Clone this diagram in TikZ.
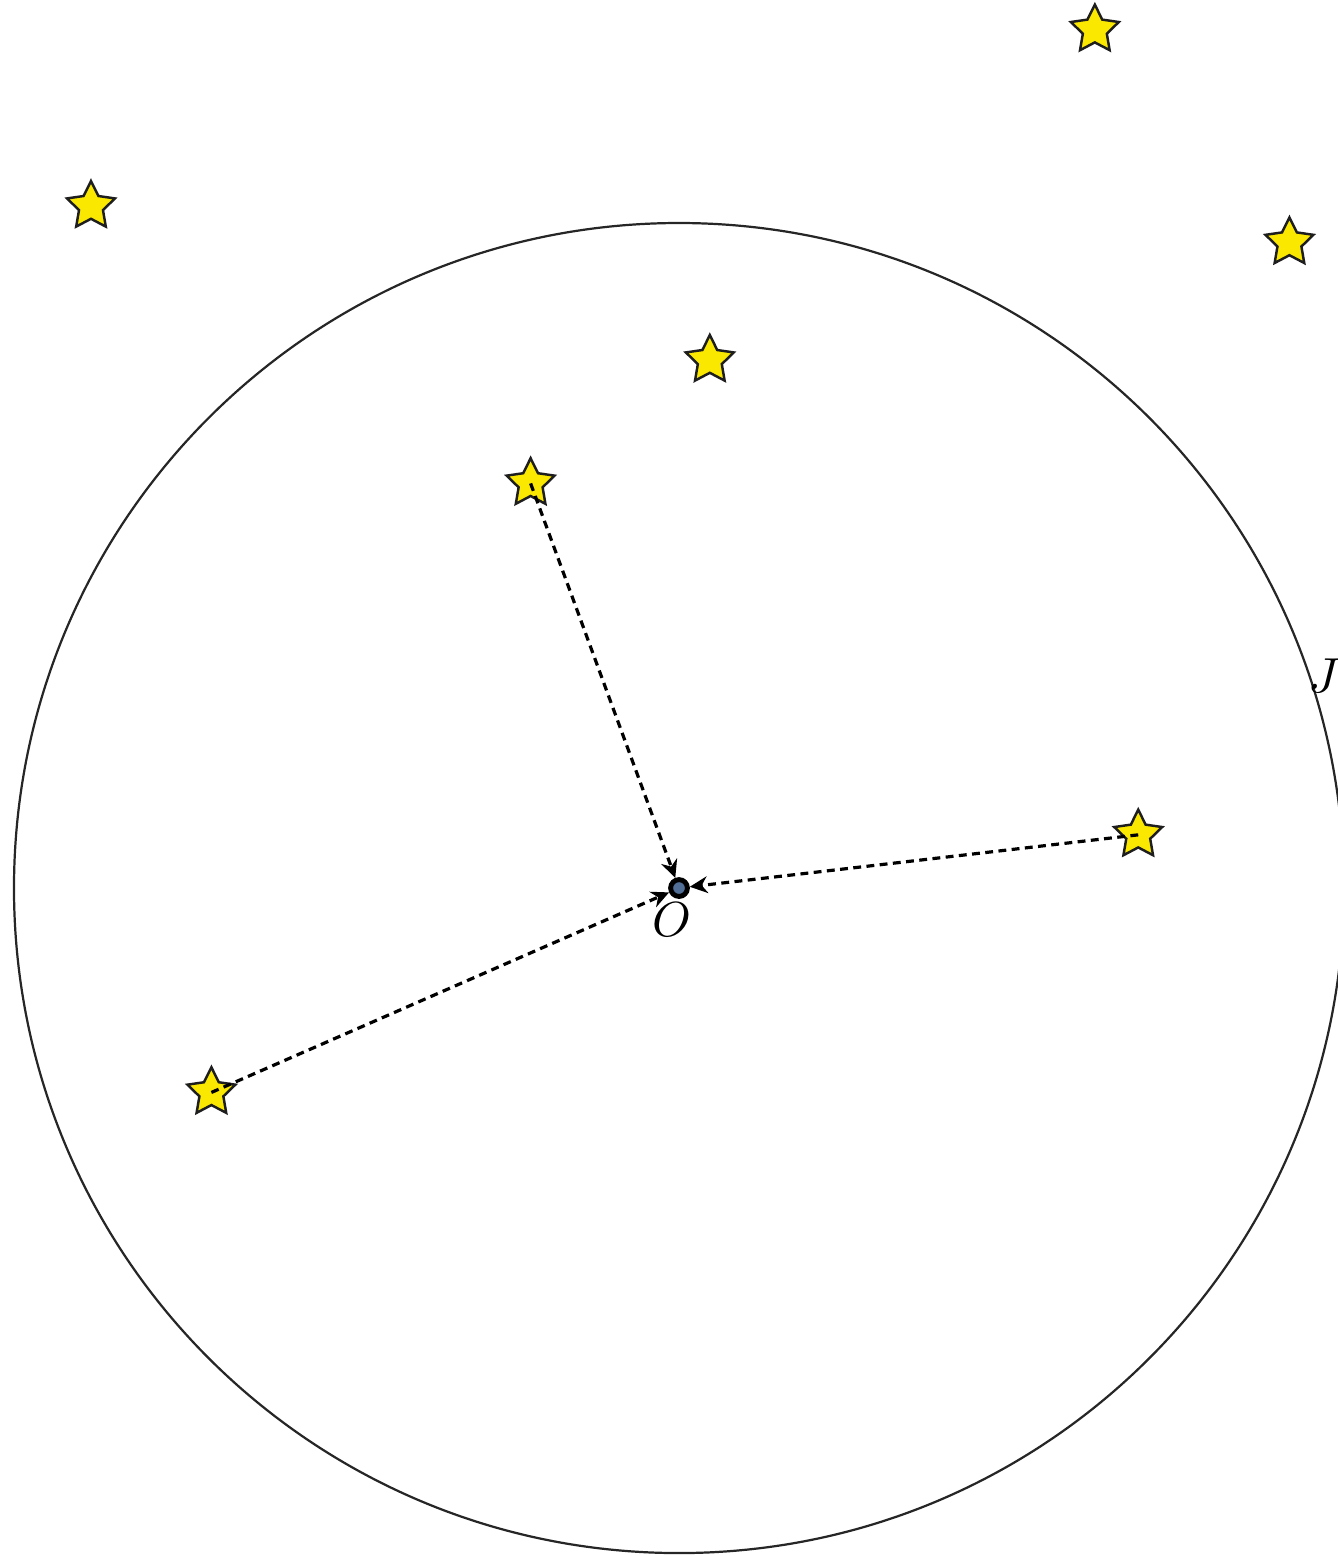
\documentclass[tikz,border=0pt]{standalone}
\usepackage{xcolor}
\usepackage{amsmath}
\usepackage{tikz}
\usetikzlibrary{shapes.geometric, arrows.meta, positioning, calc}
\definecolor{mydark}{RGB}{30,30,30}
\definecolor{myyellow}{RGB}{250,232,0}
\definecolor{myblue}{RGB}{80,110,150}
\tikzset{
  starnode/.style={star, star points=5, star point ratio=2.0, draw=mydark,
    fill=myyellow, minimum size=0.36cm, inner sep=0pt, line width=0.5pt},
  origin/.style={circle, draw=black, fill=myblue, minimum size=0.12cm,
    inner sep=0pt, line width=1pt},
  pull/.style={-{Stealth[length=3.6pt,width=3.4pt]}, line width=0.65pt,
    dash pattern=on 1.6pt off 1.1pt, color=black},
  rim/.style={line width=0.45pt, color=black!85}
}

\begin{document}
\begin{tikzpicture}[font=\normalsize]
  \useasboundingbox (-4.85,-4.771) rectangle (4.70,6.343);

  % Boundary circle and its label
  \draw[rim] (0,0) circle (4.75);
  \node[anchor=south west, inner sep=0pt, xshift=-0.05cm] (jlabel) at (17:4.75) {$J$};

  % Stars outside the reach of O
  \node[starnode] (far1) at (2.97, 6.13) {};
  \node[starnode] (far2) at (-4.20, 4.87) {};
  \node[starnode] (far3) at (4.36, 4.61) {};
  \node[starnode] (far4) at (0.22, 3.77) {};

  % Stars that pull on O
  \node[starnode] (sa) at (-1.06, 2.89) {};
  \node[starnode] (sb) at (3.28, 0.38) {};
  \node[starnode] (sc) at (-3.34, -1.46) {};

  % The point O
  \node[origin] (o) at (0,0) {};
  \node[below=0.02cm of o, inner sep=0pt, xshift=-0.05cm] (olabel) {$O$};

  % Pulls from the stars towards O
  \draw[pull] (sa.center) -- (o);
  \draw[pull] (sb.center) -- (o);
  \draw[pull] (sc.center) -- (o);
\end{tikzpicture}
\end{document}
